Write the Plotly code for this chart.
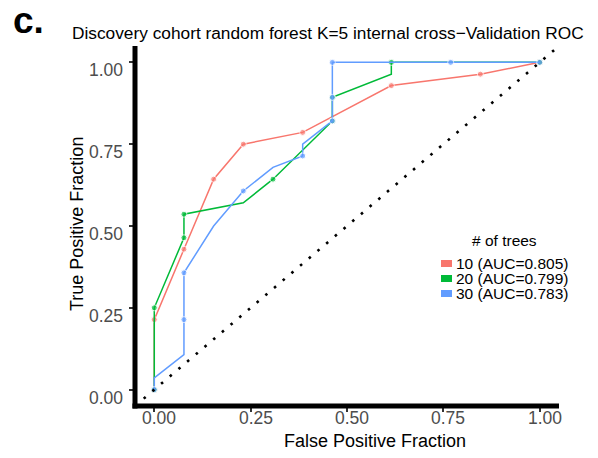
import plotly.graph_objects as go

# ROC curves from 5-fold internal cross-validation, one per forest size
fpr_10 = [0.0, 0.0, 0.077, 0.154, 0.231, 0.385, 0.615, 0.846, 1.0]
tpr_10 = [0.0, 0.214, 0.429, 0.643, 0.750, 0.786, 0.929, 0.964, 1.0]
cut_10 = [1, 1, 1, 1, 1, 1, 1, 1, 1]

fpr_20 = [0.0, 0.0, 0.077, 0.077, 0.231, 0.308, 0.462, 0.462, 0.615, 0.615, 1.0]
tpr_20 = [0.0, 0.250, 0.464, 0.536, 0.571, 0.643, 0.821, 0.893, 0.964, 1.0, 1.0]
cut_20 = [1, 1, 1, 1, 0, 1, 1, 1, 0, 1, 1]

fpr_30 = [0.0, 0.0, 0.077, 0.077, 0.077, 0.154, 0.231, 0.308, 0.385, 0.385,
          0.462, 0.462, 0.462, 0.769, 1.0]
tpr_30 = [0.0, 0.036, 0.107, 0.214, 0.357, 0.500, 0.607, 0.679, 0.714, 0.750,
          0.821, 0.893, 1.0, 1.0, 1.0]
cut_30 = [1, 0, 0, 1, 1, 0, 1, 0, 1, 0, 1, 1, 1, 1, 1]

tree_labels = ["10", "20", "30"]
auc_values = [0.805, 0.799, 0.783]
colors = ["#F8766D", "#00BA38", "#619CFF"]

tick_vals = [0.0, 0.25, 0.5, 0.75, 1.0]
tick_text = ["0.00", "0.25", "0.50", "0.75", "1.00"]
axis_range = [-0.05, 1.05]

FONT = "Liberation Sans, Arial, Helvetica, sans-serif"
W, H = 598, 458
L, R, T, B = 135, 39, 46, 52
PW, PH = W - L - R, H - T - B


def px(x):
    return (x - L) / PW


def py(y):
    return (H - B - y) / PH


fig = go.Figure()
for fpr, tpr, cut, col in [(fpr_10, tpr_10, cut_10, colors[0]),
                           (fpr_20, tpr_20, cut_20, colors[1]),
                           (fpr_30, tpr_30, cut_30, colors[2])]:
    fig.add_trace(go.Scatter(
        x=fpr, y=tpr, mode="lines+markers",
        line=dict(color=col, width=1.5),
        marker=dict(color=col, size=[6 if c else 0 for c in cut]),
        showlegend=False, hoverinfo="skip",
    ))

shapes = [
    # chance diagonal
    dict(type="line", xref="x", yref="y", x0=axis_range[0], y0=axis_range[0],
         x1=axis_range[1], y1=axis_range[1], layer="above",
         line=dict(color="black", width=2.6, dash="2.6px,8.8px")),
    # heavy axis lines
    dict(type="line", xref="paper", yref="paper", x0=0, x1=0, y0=-0.007, y1=1,
         line=dict(color="black", width=5)),
    dict(type="line", xref="paper", yref="paper", x0=-0.006, x1=1, y0=0, y1=0,
         line=dict(color="black", width=5)),
]

tick_font = dict(family=FONT, size=17.5, color="#4D4D4D")
annotations = [
    dict(text="<b>c.</b>", x=px(11), y=py(20), xanchor="left", yanchor="middle",
         xref="paper", yref="paper",
         font=dict(family=FONT, size=37, color="black")),
    dict(text="Discovery cohort random forest K=5 internal cross\u2212Validation ROC",
         x=px(328), y=py(33), xanchor="center", yanchor="middle",
         xref="paper", yref="paper",
         font=dict(family=FONT, size=17.3, color="black")),
    dict(text="False Positive Fraction", x=px(375), y=py(441),
         xanchor="center", yanchor="middle", xref="paper", yref="paper",
         font=dict(family=FONT, size=18, color="black")),
    dict(text="True Positive Fraction", x=px(77), y=py(224), textangle=-90,
         xanchor="center", yanchor="middle", xref="paper", yref="paper",
         font=dict(family=FONT, size=18, color="black")),
    dict(text="# of trees", x=px(470), y=py(240), xanchor="left", yanchor="middle",
         xref="paper", yref="paper",
         font=dict(family=FONT, size=15.5, color="black")),
]

# tick labels, set slightly off their ticks
for v, t in zip(tick_vals, tick_text):
    annotations.append(dict(text=t, x=v, xref="x", y=0, yref="paper",
                            xanchor="center", yanchor="middle",
                            xshift=5, yshift=-12, font=tick_font))
    annotations.append(dict(text=t, x=0, xref="paper", y=v, yref="y",
                            xanchor="right", yanchor="middle",
                            xshift=-10, yshift=-8, font=tick_font))

# legend entries
key_rows = [263.5, 278.5, 293.5]
for lab, auc, col, yc in zip(tree_labels, auc_values, colors, key_rows):
    annotations.append(dict(
        text=f"{lab} (AUC={auc:.3f})", x=px(454), y=py(yc),
        xanchor="left", yanchor="middle", xref="paper", yref="paper",
        font=dict(family=FONT, size=15.5, color="black")))
    shapes.append(dict(type="rect", xref="paper", yref="paper",
                       x0=px(441), x1=px(452), y0=py(yc + 3.5), y1=py(yc - 3.5),
                       line=dict(width=0), fillcolor=col))

for a in annotations:
    a.update(showarrow=False)

axis_common = dict(
    range=axis_range, tickvals=tick_vals, showticklabels=False,
    showgrid=False, zeroline=False, showline=False,
    ticks="outside", ticklen=5, tickwidth=1.5, tickcolor="#333333",
)

fig.update_layout(
    width=W, height=H,
    margin=dict(l=L, r=R, t=T, b=B),
    paper_bgcolor="white", plot_bgcolor="white",
    xaxis=axis_common, yaxis=axis_common,
    shapes=shapes, annotations=annotations,
    showlegend=False,
)

fig.write_html("out.html")
